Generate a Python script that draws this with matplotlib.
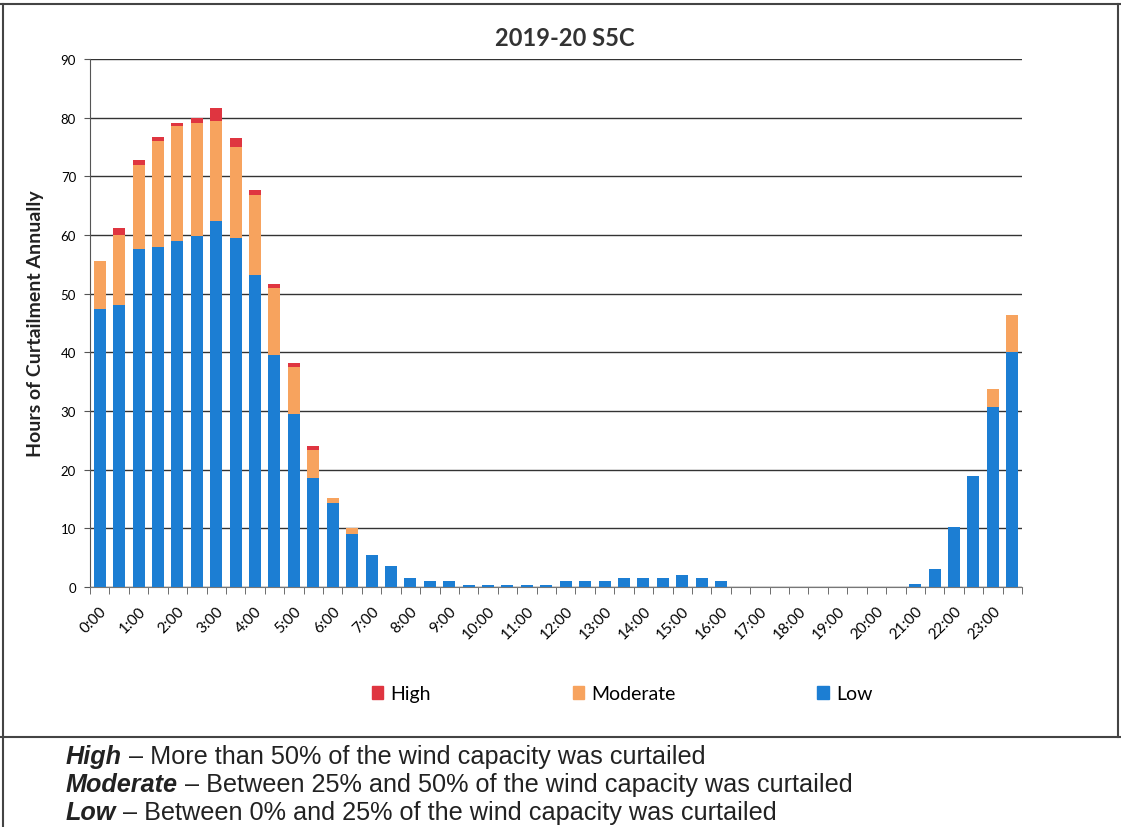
"""2019-20 S5C: half-hourly hours of wind curtailment, stacked by severity."""

import matplotlib

matplotlib.use("Agg")
import matplotlib.pyplot as plt
from matplotlib.lines import Line2D
from matplotlib.patches import Patch

# half-hour slots, 0:00 .. 23:30
SLOTS = [f"{h}:{m:02d}" for h in range(24) for m in (0, 30)]

LOW = [47.4, 48.1, 57.6, 58.0, 59.0, 59.9, 62.4, 59.5, 53.1, 39.5, 29.5, 18.5,
       14.4, 9.0, 5.5, 3.5, 1.5, 1.0, 1.0, 0.4, 0.4, 0.4, 0.4, 0.4,
       1.0, 1.0, 1.0, 1.5, 1.5, 1.5, 2.0, 1.5, 1.0, 0, 0, 0,
       0, 0, 0, 0, 0, 0, 0.5, 3.0, 10.2, 19.0, 30.6, 40.1]
MODERATE = [8.1, 11.9, 14.4, 18.1, 19.5, 19.2, 17.0, 15.5, 13.8, 11.4, 8.0, 4.9,
            0.7, 1.1, 0, 0, 0, 0, 0, 0, 0, 0, 0, 0,
            0, 0, 0, 0, 0, 0, 0, 0, 0, 0, 0, 0,
            0, 0, 0, 0, 0, 0, 0, 0, 0, 0, 3.2, 6.2]
HIGH = [0, 1.2, 0.8, 0.6, 0.6, 0.9, 2.2, 1.6, 0.8, 0.7, 0.7, 0.7,
        0, 0, 0, 0, 0, 0, 0, 0, 0, 0, 0, 0,
        0, 0, 0, 0, 0, 0, 0, 0, 0, 0, 0, 0,
        0, 0, 0, 0, 0, 0, 0, 0, 0, 0, 0, 0]

FOOTNOTES = [
    ("High", " \u2013 More than 50% of the wind capacity was curtailed"),
    ("Moderate", " \u2013 Between 25% and 50% of the wind capacity was curtailed"),
    ("Low", " \u2013 Between 0% and 25% of the wind capacity was curtailed"),
]

C_LOW = "#1c7ed3"
C_MOD = "#f7a35e"
C_HIGH = "#df3540"

plt.rcParams["font.family"] = ["Lato", "DejaVu Sans"]

W, H = 1121, 828
fig = plt.figure(figsize=(W / 100, H / 100), dpi=100)
ax = fig.add_axes([90 / W, 1 - 588 / H, 932 / W, 528 / H])

x = list(range(len(SLOTS)))
bottom_high = [l + m for l, m in zip(LOW, MODERATE)]
bw = 0.62
ax.bar(x, LOW, width=bw, color=C_LOW, zorder=3)
ax.bar(x, MODERATE, width=bw, bottom=LOW, color=C_MOD, zorder=3)
ax.bar(x, HIGH, width=bw, bottom=bottom_high, color=C_HIGH, zorder=3)

ax.set_xlim(-0.5, len(SLOTS) - 0.5)
ax.set_ylim(0, 90)
ax.set_yticks(range(0, 91, 10))
ax.tick_params(axis="y", labelsize=9.5, length=4, color="#555555", pad=6)
ax.yaxis.grid(True, color="#333333", lw=1.0, zorder=0)

ax.set_xticks(x[::2])
ax.set_xticklabels(SLOTS[::2], rotation=45, ha="right", va="top",
                   rotation_mode="anchor", fontsize=11)
ax.tick_params(axis="x", length=0, pad=12)
ax.set_xticks([i - 0.5 for i in range(len(SLOTS) + 1)], minor=True)
ax.tick_params(axis="x", which="minor", length=5, color="#555555")

for side in ("top", "right"):
    ax.spines[side].set_visible(False)
ax.spines["left"].set_color("#555555")
ax.spines["bottom"].set_color("#777777")

ax.set_ylabel("Hours of Curtailment Annually", fontsize=14, fontweight="bold",
              labelpad=12, color="#222222")
fig.text(565 / W, 1 - 38 / H, "2019-20 S5C", ha="center", va="center",
         fontsize=17, fontweight="bold", color="#333333")

handles = [Patch(color=C_HIGH), Patch(color=C_MOD), Patch(color=C_LOW)]
fig.legend(handles, ["High", "Moderate", "Low"], loc="center",
           bbox_to_anchor=(622 / W, 1 - 695 / H), ncol=3, frameon=False,
           fontsize=14, handlelength=0.6, handleheight=0.6, handletextpad=0.35,
           columnspacing=7.3)

# page frame lines
frame = dict(color="#444444", lw=1.5, transform=fig.transFigure)
fig.add_artist(Line2D([0, 1], [1 - 5 / H, 1 - 5 / H], **frame))
fig.add_artist(Line2D([3 / W, 3 / W], [0, 1 - 5 / H], **frame))
fig.add_artist(Line2D([1118 / W, 1118 / W], [1 - 738 / H, 1 - 5 / H], **frame))
fig.add_artist(Line2D([0, 1], [1 - 738 / H, 1 - 738 / H], **frame))

# footnote definitions: bold-italic keyword followed by plain text
fig.canvas.draw()
renderer = fig.canvas.get_renderer()
foot_font = ["Liberation Sans", "DejaVu Sans"]
for i, (key, rest) in enumerate(FOOTNOTES):
    y = 1 - (757 + i * 28) / H
    t = fig.text(66 / W, y, key, fontsize=18.2, fontweight="bold", style="italic",
                 family=foot_font, va="center", ha="left", color="#222222")
    bb = t.get_window_extent(renderer)
    fig.text(bb.x1 / W, y, rest, fontsize=18.2, family=foot_font,
             va="center", ha="left", color="#222222")

fig.savefig("out.png", dpi=100)
